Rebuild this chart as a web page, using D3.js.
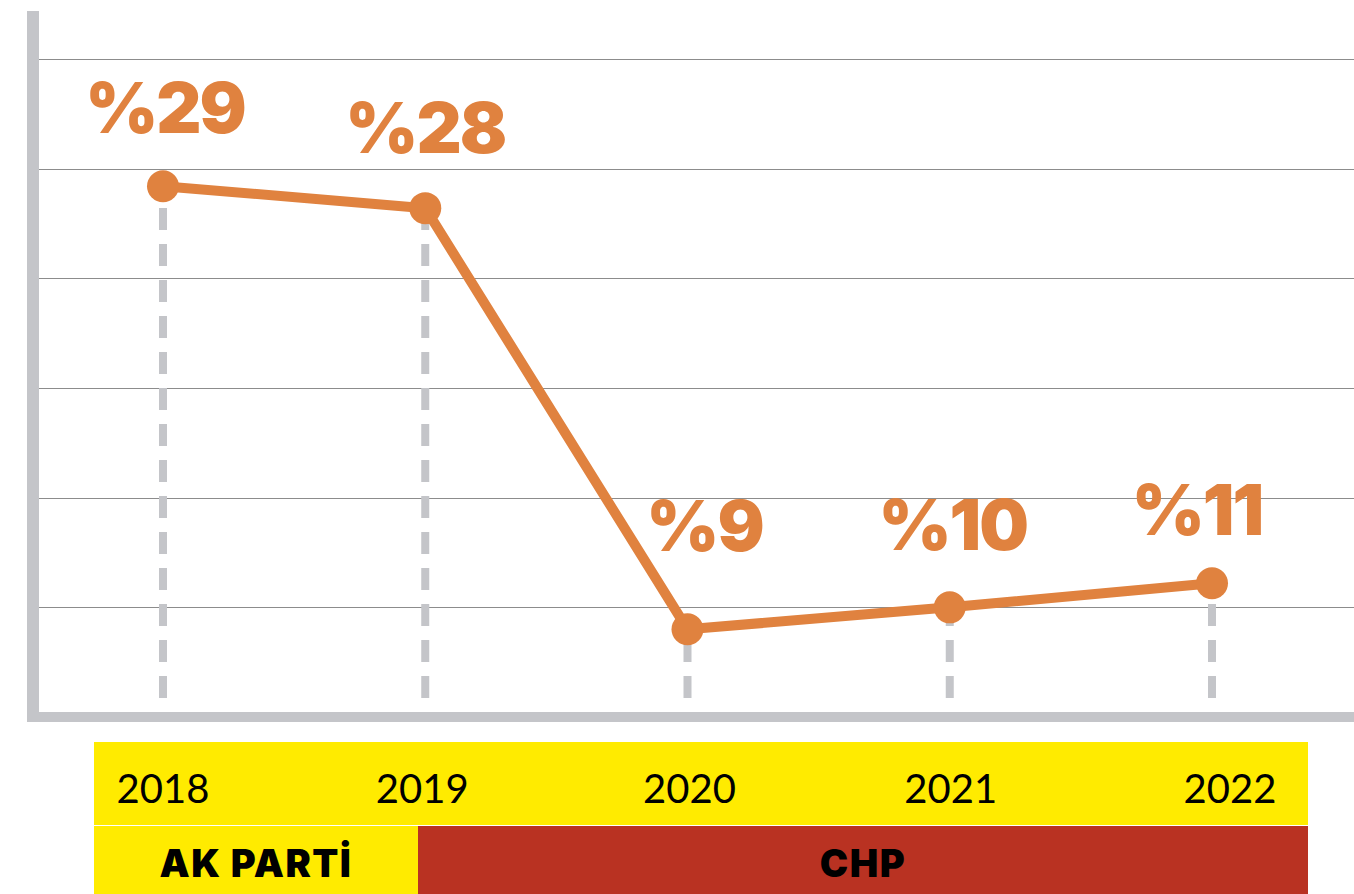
<!DOCTYPE html>
<html>
<head>
<meta charset="utf-8">
<script src="https://cdn.jsdelivr.net/npm/d3@7"></script>
<style>
  html, body { margin: 0; padding: 0; background: #ffffff; }
  svg { display: block; }
</style>
</head>
<body>
<svg id="chart" width="1354" height="894"></svg>
<script>
// ---- data ----
const years = ["2018", "2019", "2020", "2021", "2022"];
const values = [29.2, 28.2, 9, 10, 11.1];
const valueLabels = ["%29", "%28", "%9", "%10", "%11"];
const gridTicks = [10, 15, 20, 25, 30, 35];
const parties = ["AK PARTİ", "CHP"];

// ---- layout / style ----
const W = 1354, H = 894;
const orange = "#e0823f";
const gray = "#c4c5c9";
const yellow = "#ffeb00";
const red = "#b93222";
const labelDx = [2, 0, 17, 3, -15];
const labelDy = [-53, -55, -78, -57, -48];
const yearDx = [0, -3, 2, 1, 18];
const heavyFont = "Inter, Roboto, Lato, 'DejaVu Sans', sans-serif";

const svg = d3.select("#chart");

const x = d3.scalePoint().domain(years).range([163, 1212]);
const y = d3.scaleLinear().domain([5, 35]).range([717, 59]);

// gridlines
svg.append("g")
  .selectAll("line")
  .data(gridTicks)
  .join("line")
  .attr("x1", 39).attr("x2", W)
  .attr("y1", d => Math.round(y(d)) + 0.5)
  .attr("y2", d => Math.round(y(d)) + 0.5)
  .attr("stroke", "#8c8c8c")
  .attr("stroke-width", 1.2);

// dashed drop lines (anchored at bottom)
svg.append("g")
  .selectAll("line")
  .data(years)
  .join("line")
  .attr("x1", d => x(d)).attr("x2", d => x(d))
  .attr("y1", 698)
  .attr("y2", (d, i) => y(values[i]) + 10)
  .attr("stroke", gray)
  .attr("stroke-width", 8)
  .attr("stroke-dasharray", "22,14");

// axes
svg.append("line")
  .attr("x1", 33).attr("x2", 33)
  .attr("y1", 11).attr("y2", 722)
  .attr("stroke", gray).attr("stroke-width", 12);
svg.append("line")
  .attr("x1", 27).attr("x2", W)
  .attr("y1", 717).attr("y2", 717)
  .attr("stroke", gray).attr("stroke-width", 10);

// line
const line = d3.line()
  .x((d, i) => x(years[i]))
  .y(d => y(d));
svg.append("path")
  .datum(values)
  .attr("d", line)
  .attr("fill", "none")
  .attr("stroke", orange)
  .attr("stroke-width", 10)
  .attr("stroke-linejoin", "round");

svg.append("g")
  .selectAll("circle")
  .data(values)
  .join("circle")
  .attr("cx", (d, i) => x(years[i]))
  .attr("cy", d => y(d))
  .attr("r", 16)
  .attr("fill", orange);

// value labels
svg.append("g")
  .selectAll("text")
  .data(valueLabels)
  .join("text")
  .attr("x", (d, i) => x(years[i]) + labelDx[i])
  .attr("y", (d, i) => y(values[i]) + labelDy[i])
  .attr("text-anchor", "middle")
  .attr("font-family", heavyFont)
  .attr("font-weight", 900)
  .attr("font-size", 70)
  .attr("letter-spacing", -2)
  .attr("fill", orange)
  .text(d => d);

// bottom bands
const bandLeft = 94, bandRight = 1308;
svg.append("rect")
  .attr("x", bandLeft).attr("y", 742)
  .attr("width", bandRight - bandLeft).attr("height", 83)
  .attr("fill", yellow);

const splitX = 418;
svg.append("rect")
  .attr("x", bandLeft).attr("y", 826)
  .attr("width", splitX - bandLeft).attr("height", H - 826)
  .attr("fill", yellow);
svg.append("rect")
  .attr("x", splitX).attr("y", 826)
  .attr("width", bandRight - splitX).attr("height", H - 826)
  .attr("fill", red);

// year labels
svg.append("g")
  .selectAll("text")
  .data(years)
  .join("text")
  .attr("x", (d, i) => x(d) + yearDx[i])
  .attr("y", 803)
  .attr("text-anchor", "middle")
  .attr("font-family", "Lato, 'DejaVu Sans', sans-serif")
  .attr("font-weight", 400)
  .attr("font-size", 40)
  .attr("fill", "#000")
  .text(d => d);

// party labels
const partyCenters = [(bandLeft + splitX) / 2, (splitX + bandRight) / 2];
svg.append("g")
  .selectAll("text")
  .data(parties)
  .join("text")
  .attr("x", (d, i) => partyCenters[i])
  .attr("y", 877)
  .attr("text-anchor", "middle")
  .attr("font-family", heavyFont)
  .attr("font-weight", 900)
  .attr("font-size", 38)
  .attr("letter-spacing", 1.5)
  .attr("fill", "#000")
  .text(d => d);
</script>
</body>
</html>
